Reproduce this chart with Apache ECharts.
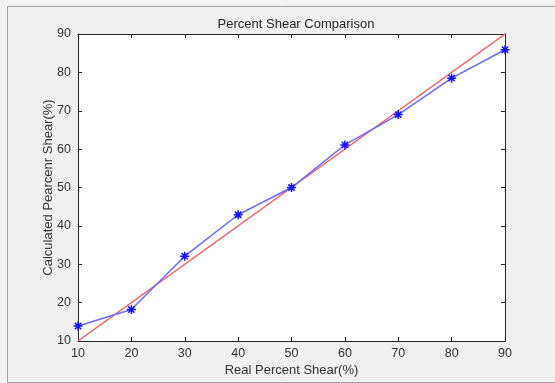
<!DOCTYPE html>
<html><head><meta charset="utf-8">
<script src="https://cdn.jsdelivr.net/npm/echarts@6/dist/echarts.min.js"></script>
<style>html,body{margin:0;padding:0;background:#f0f0f0;}#c{width:555px;height:383px;}</style>
</head><body><div id="c"></div>
<script>
var realShear = [10, 20, 30, 40, 50, 60, 70, 80, 90];
var calcShear = [13.9, 18.2, 32.1, 42.9, 50.0, 61.1, 69.0, 78.5, 85.9];
var idealLine = [[10, 10], [90, 90]];
var axisTicks = [10, 20, 30, 40, 50, 60, 70, 80, 90];

var chart = echarts.init(document.getElementById('c'), null, {renderer: 'canvas'});
var font = 'Liberation Sans, Arial, Helvetica, sans-serif';
var axColor = '#262626';
var labColor = '#333333';
var star = 'path://M0,-10L0,10M-10,0L10,0M-7,-7L7,7M-7,7L7,-7';
function baseAxis(extra) {
  return Object.assign({
    type: 'value', min: 10, max: 90, interval: 10,
    axisLine: {show: true, onZero: false, lineStyle: {color: axColor, width: 1}},
    axisTick: {show: true, inside: true, length: 4, lineStyle: {color: axColor}},
    splitLine: {show: false},
    axisLabel: {color: labColor, fontFamily: font, fontSize: 12}
  }, extra);
}
chart.setOption({
  backgroundColor: '#f0f0f0',
  animation: false,
  title: {text: 'Percent Shear Comparison', left: 291, top: 13, textAlign: 'center',
    textStyle: {fontFamily: font, fontSize: 13, fontWeight: 'normal', color: axColor}},
  grid: {left: 78, right: 50, top: 34, bottom: 42, show: true, backgroundColor: '#ffffff', borderWidth: 0},
  xAxis: [
    baseAxis({position: 'bottom', name: 'Real Percent Shear(%)', nameLocation: 'middle', nameGap: 23,
      nameMoveOverlap: false,
      nameTextStyle: {fontFamily: font, fontSize: 13, color: labColor},
      axisLabel: {color: labColor, fontFamily: font, fontSize: 12.5, margin: 6}}),
    baseAxis({position: 'top', axisLabel: {show: false}})
  ],
  yAxis: [
    baseAxis({position: 'left', name: 'Calculated Pearcenr Shear(%)', nameLocation: 'middle', nameGap: 23,
      nameMoveOverlap: false,
      nameTextStyle: {fontFamily: font, fontSize: 13, color: labColor},
      axisLabel: {color: labColor, fontFamily: font, fontSize: 12.5, margin: 7}}),
    baseAxis({position: 'right', axisLabel: {show: false}})
  ],
  graphic: [{
    type: 'rect', left: 5, top: 4, shape: {width: 548, height: 376},
    style: {fill: 'none', stroke: '#a0a0a0', lineWidth: 1}, silent: true
  }],
  series: [
    {type: 'line', data: idealLine, symbol: 'none', lineStyle: {color: '#f25b5b', width: 1.5}, z: 2},
    {type: 'line', data: realShear.map(function (x, i) { return [x, calcShear[i]]; }),
      lineStyle: {color: '#6a6aff', width: 1.5},
      symbol: star, symbolSize: 9,
      itemStyle: {color: 'rgba(0,0,0,0)', borderColor: '#1010ff', borderWidth: 1.5},
      z: 3}
  ]
});
</script></body></html>
